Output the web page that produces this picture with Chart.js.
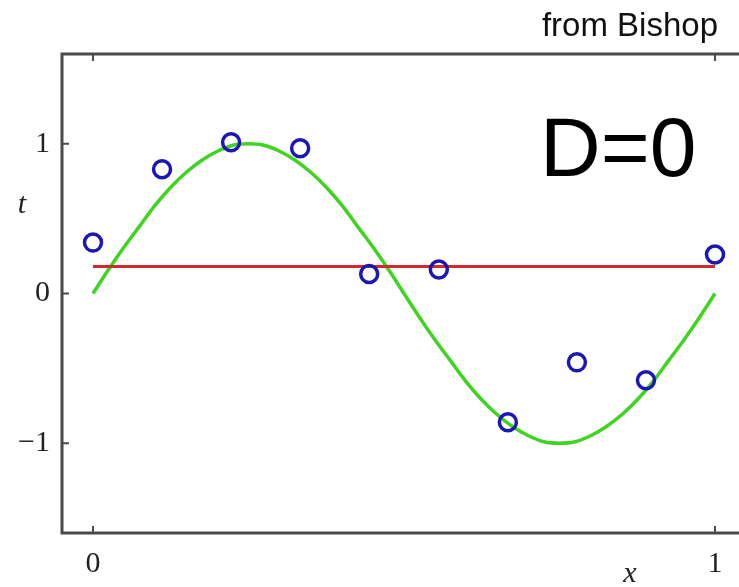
<!DOCTYPE html>
<html>
<head>
<meta charset="utf-8">
<script src="https://cdn.jsdelivr.net/npm/chart.js@4/dist/chart.umd.min.js"></script>
<style>
  html, body { margin: 0; padding: 0; background: #fff; }
  #wrap { width: 739px; height: 587px; }
</style>
</head>
<body>
<div id="wrap"><canvas id="fit" width="739" height="587"></canvas></div>
<script>
// training points
const sampleX = [0, 0.111, 0.222, 0.333, 0.444, 0.556, 0.667, 0.778, 0.889, 1];
const sampleT = [0.34, 0.83, 1.01, 0.97, 0.13, 0.16, -0.86, -0.46, -0.58, 0.26];

// underlying curve, read at steps of 0.025
const curveX = [0, 0.025, 0.05, 0.075, 0.1, 0.125, 0.15, 0.175, 0.2, 0.225, 0.25,
  0.275, 0.3, 0.325, 0.35, 0.375, 0.4, 0.425, 0.45, 0.475, 0.5,
  0.525, 0.55, 0.575, 0.6, 0.625, 0.65, 0.675, 0.7, 0.725, 0.75,
  0.775, 0.8, 0.825, 0.85, 0.875, 0.9, 0.925, 0.95, 0.975, 1];
const curveT = [0, 0.16, 0.31, 0.45, 0.59, 0.71, 0.81, 0.89, 0.95, 0.99, 1.0,
  0.99, 0.95, 0.89, 0.81, 0.71, 0.59, 0.45, 0.31, 0.16, 0,
  -0.16, -0.31, -0.45, -0.59, -0.71, -0.81, -0.89, -0.95, -0.99, -1.0,
  -0.99, -0.95, -0.89, -0.81, -0.71, -0.59, -0.45, -0.31, -0.16, 0];

// order-0 fit: a constant
const fitX = [0, 1];
const fitT = [0.18, 0.18];

const xTicks = [0, 1];
const yTicks = [-1, 0, 1];

const toPts = (xs, ys) => xs.map((x, i) => ({ x: x, y: ys[i] }));

const serif = '"Liberation Serif", "DejaVu Serif", serif';
const frameColor = '#4a4a4a';

// left/top/bottom frame with inward ticks, plus axis letters and captions
const framePlugin = {
  id: 'frame',
  afterDraw(chart) {
    const ctx = chart.ctx;
    const a = chart.chartArea;
    const xs = chart.scales.x, ys = chart.scales.y;
    ctx.save();
    ctx.strokeStyle = frameColor;
    ctx.lineWidth = 3;
    ctx.beginPath();
    ctx.moveTo(chart.width + 2, a.top);
    ctx.lineTo(a.left, a.top);
    ctx.lineTo(a.left, a.bottom);
    ctx.lineTo(chart.width + 2, a.bottom);
    ctx.stroke();

    ctx.lineWidth = 2;
    ctx.beginPath();
    xTicks.forEach(v => {
      const px = xs.getPixelForValue(v);
      ctx.moveTo(px, a.bottom); ctx.lineTo(px, a.bottom - 7);
      ctx.moveTo(px, a.top); ctx.lineTo(px, a.top + 7);
    });
    yTicks.forEach(v => {
      const py = ys.getPixelForValue(v);
      ctx.moveTo(a.left, py); ctx.lineTo(a.left + 7, py);
    });
    ctx.stroke();

    ctx.fillStyle = '#222';
    ctx.font = 'italic 30px ' + serif;
    ctx.textAlign = 'center';
    ctx.textBaseline = 'middle';
    ctx.fillText('t', 22, 205);
    ctx.fillText('x', 630, 574);

    ctx.fillStyle = '#111';
    ctx.font = '33px "Liberation Sans", Arial, sans-serif';
    ctx.textAlign = 'right';
    ctx.textBaseline = 'alphabetic';
    ctx.fillText('from Bishop', 718, 36);

    ctx.fillStyle = '#000';
    ctx.font = '84px "Liberation Sans", Arial, sans-serif';
    ctx.textAlign = 'left';
    ctx.fillText('D=0', 540, 176);
    ctx.restore();
  }
};

const chart = new Chart(document.getElementById('fit'), {
  type: 'scatter',
  data: {
    datasets: [
      {
        data: toPts(sampleX, sampleT),
        showLine: false,
        pointStyle: 'circle',
        pointRadius: 8.5,
        pointBorderWidth: 3.5,
        pointBorderColor: '#1c16b4',
        pointBackgroundColor: 'rgba(0,0,0,0)',
        clip: false,
        order: 0
      },
      {
        data: toPts(fitX, fitT),
        showLine: true,
        borderColor: '#d02a2a',
        borderWidth: 3,
        pointRadius: 0,
        order: 1
      },
      {
        data: toPts(curveX, curveT),
        showLine: true,
        borderColor: '#3fd420',
        borderWidth: 3.5,
        pointRadius: 0,
        cubicInterpolationMode: 'monotone',
        order: 2
      }
    ]
  },
  options: {
    responsive: false,
    animation: false,
    events: [],
    layout: { padding: { top: 54, right: 0, left: 0, bottom: 0 } },
    plugins: {
      legend: { display: false },
      tooltip: { enabled: false }
    },
    scales: {
      x: {
        type: 'linear',
        min: -0.05,
        max: 1.04,
        afterBuildTicks: s => { s.ticks = xTicks.map(v => ({ value: v })); },
        afterFit: s => { s.height = 54; },
        grid: { display: false, drawTicks: false },
        border: { display: false },
        ticks: {
          padding: 13,
          color: '#222',
          font: { family: serif, size: 30 }
        }
      },
      y: {
        type: 'linear',
        min: -1.6,
        max: 1.6,
        afterBuildTicks: s => { s.ticks = yTicks.map(v => ({ value: v })); },
        afterFit: s => { s.width = 62; },
        grid: { display: false, drawTicks: false },
        border: { display: false },
        ticks: {
          padding: 12,
          color: '#222',
          font: { family: serif, size: 30 },
          callback: v => (v < 0 ? '\u2212' + Math.abs(v) : String(v))
        }
      }
    }
  },
  plugins: [framePlugin]
});

// pin x = 0 and x = 1 to fixed columns, whatever width the layout left for the plot
const x0px = 93, x1px = 715;
const unit = x1px - x0px;
const area = chart.chartArea;
chart.options.scales.x.min = (area.left - x0px) / unit;
chart.options.scales.x.max = (area.right - x0px) / unit;
chart.update();
</script>
</body>
</html>
